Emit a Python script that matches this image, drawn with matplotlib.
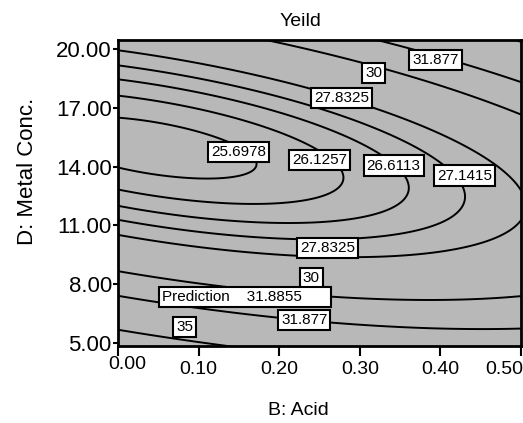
import numpy as np
import matplotlib.pyplot as plt
from matplotlib.transforms import ScaledTranslation

plt.rcParams['font.family'] = ['Liberation Sans', 'DejaVu Sans']

# quadratic response surface: Yield = f(B: Acid, D: Metal Conc.)
b0 = 49.625
b_acid = -21.12
b_metal = -3.166
b_acid_metal = 1.331
b_acid2 = 14.95
b_metal2 = 0.104

levels = [25.6978, 26.1257, 26.6113, 27.1415, 27.8325, 30, 31.877, 35]

# contour label boxes (text, B, D)
lab_txt = ["25.6978", "26.1257", "26.6113", "27.1415", "27.8325", "27.8325",
           "30", "30", "31.877", "31.877", "35"]
lab_x = [0.150, 0.250, 0.342, 0.430, 0.277, 0.260, 0.317, 0.240, 0.394, 0.231, 0.083]
lab_y = [14.76, 14.31, 14.05, 13.54, 17.51, 9.83, 18.78, 8.31, 19.44, 6.17, 5.82]

# prediction flag
pred_x = 0.055
pred_y = 7.33
pred_val = 31.8855

xticks = [0.0, 0.1, 0.2, 0.3, 0.4, 0.5]
yticks = [5, 8, 11, 14, 17, 20]

B, D = np.meshgrid(np.linspace(0, 0.5, 300), np.linspace(4.8, 20.5, 300))
Z = (b0 + b_acid * B + b_metal * D + b_acid_metal * B * D
     + b_acid2 * B ** 2 + b_metal2 * D ** 2)

fig = plt.figure(figsize=(5.23, 4.23), dpi=100)
ax = fig.add_axes([118 / 523, 1 - 346 / 423, 403 / 523, 306 / 423])
ax.set_facecolor('#b8b8b8')

ax.contour(B, D, Z, levels=levels, colors='black', linewidths=1.4, zorder=2)

box = dict(boxstyle='square,pad=0.2', facecolor='white', edgecolor='black', linewidth=1.5)
for t, x, y in zip(lab_txt, lab_x, lab_y):
    ax.text(x, y, t, ha='center', va='center', fontsize=11, bbox=box, zorder=5)

ax.text(pred_x, pred_y, "Prediction    %.4f      " % pred_val, ha='left', va='center',
        fontsize=11, bbox=box, zorder=6)

ax.set_xlim(0, 0.5)
ax.set_ylim(4.85, 20.45)
ax.set_xticks(xticks)
ax.set_xticklabels(["%.2f" % v for v in xticks])
ax.set_yticks(yticks)
ax.set_yticklabels(["%.2f" % v for v in yticks])
ax.tick_params(axis='x', length=7, width=1.5, pad=3.5, labelsize=14)
ax.tick_params(axis='y', length=3.5, width=1.5, pad=1, labelsize=16)
for s in ax.spines.values():
    s.set_linewidth(2)

# end labels sit inside the axis span
xl = ax.get_xticklabels()
xl[0].set_transform(xl[0].get_transform() + ScaledTranslation(0.09, 0.05, fig.dpi_scale_trans))
xl[-1].set_transform(xl[-1].get_transform() + ScaledTranslation(-0.17, 0, fig.dpi_scale_trans))

fig.text(300 / 523, 1 - 22 / 423, 'Yeild', ha='center', va='center', fontsize=14)
fig.text(298 / 523, 1 - 410 / 423, 'B: Acid', ha='center', va='center', fontsize=14)
fig.text(28 / 523, 1 - 171 / 423, 'D: Metal Conc.', ha='center', va='center',
         fontsize=16, rotation=90)

fig.savefig('out.png', dpi=100)
